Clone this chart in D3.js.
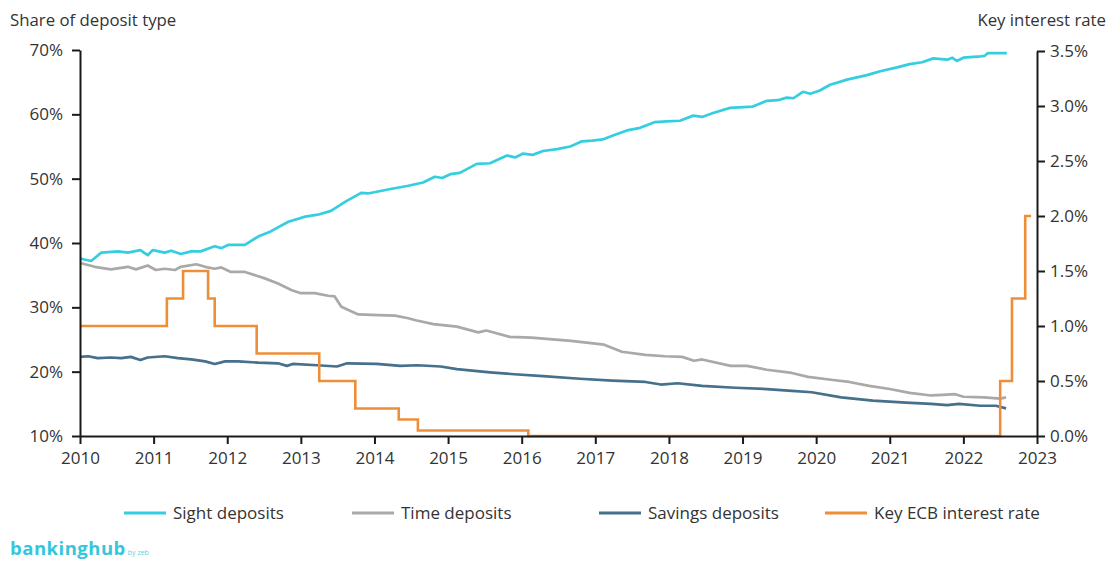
<!DOCTYPE html>
<html>
<head>
<meta charset="utf-8">
<script src="https://cdn.jsdelivr.net/npm/d3@7"></script>
<style>
  html, body { margin: 0; padding: 0; background: #fff; }
  svg { display: block; font-family: "Open Sans", Lato, sans-serif; }
</style>
</head>
<body>
<svg id="chart" width="1108" height="563"></svg>
<script>
// ---- Data (decimal year, value) ----
const xTicks = [2010, 2011, 2012, 2013, 2014, 2015, 2016, 2017, 2018, 2019, 2020, 2021, 2022, 2023];
const leftTicks = [10, 20, 30, 40, 50, 60, 70];
const rightTicks = [0, 0.5, 1.0, 1.5, 2.0, 2.5, 3.0, 3.5];

const sightDeposits = [
  [2010.00,37.6],[2010.15,37.2],[2010.29,38.5],[2010.52,38.7],[2010.65,38.5],[2010.82,38.9],[2010.92,38.1],
  [2010.99,38.9],[2011.15,38.5],[2011.24,38.8],[2011.37,38.3],[2011.51,38.7],[2011.64,38.7],[2011.83,39.5],
  [2011.92,39.2],[2012.01,39.7],[2012.24,39.7],[2012.42,41.0],[2012.59,41.8],[2012.83,43.3],[2013.06,44.1],
  [2013.23,44.4],[2013.41,45.0],[2013.60,46.4],[2013.82,47.8],[2013.91,47.7],[2014.22,48.4],[2014.46,48.9],
  [2014.66,49.4],[2014.82,50.3],[2014.92,50.1],[2015.03,50.7],[2015.16,50.9],[2015.39,52.3],[2015.57,52.4],
  [2015.80,53.6],[2015.91,53.3],[2016.02,53.9],[2016.15,53.7],[2016.29,54.3],[2016.48,54.6],[2016.66,55.0],
  [2016.82,55.8],[2016.96,55.9],[2017.10,56.1],[2017.24,56.7],[2017.43,57.5],[2017.61,57.9],[2017.81,58.8],
  [2017.97,58.9],[2018.15,59.0],[2018.33,59.8],[2018.45,59.6],[2018.60,60.2],[2018.83,61.0],[2019.14,61.2],
  [2019.33,62.1],[2019.48,62.2],[2019.60,62.6],[2019.69,62.5],[2019.82,63.5],[2019.92,63.2],[2020.05,63.7],
  [2020.19,64.6],[2020.42,65.4],[2020.69,66.1],[2020.87,66.7],[2021.10,67.3],[2021.27,67.8],[2021.44,68.1],
  [2021.59,68.7],[2021.78,68.5],[2021.85,68.8],[2021.91,68.3],[2022.00,68.8],[2022.23,69.0],[2022.29,69.1],
  [2022.33,69.5],[2022.59,69.5]
];

const timeDeposits = [
  [2010.00,36.9],[2010.20,36.3],[2010.42,35.9],[2010.65,36.3],[2010.76,35.9],[2010.92,36.5],[2011.03,35.8],
  [2011.15,36.0],[2011.29,35.8],[2011.37,36.3],[2011.58,36.7],[2011.70,36.3],[2011.83,36.0],[2011.92,36.2],
  [2012.05,35.5],[2012.24,35.5],[2012.51,34.5],[2012.69,33.7],[2012.87,32.7],[2013.00,32.2],[2013.19,32.2],
  [2013.37,31.8],[2013.46,31.7],[2013.55,30.1],[2013.78,28.9],[2014.05,28.8],[2014.28,28.7],[2014.46,28.3],
  [2014.56,28.0],[2014.80,27.4],[2015.12,27.0],[2015.41,26.1],[2015.52,26.4],[2015.84,25.4],[2016.13,25.3],
  [2016.67,24.8],[2017.12,24.2],[2017.36,23.1],[2017.68,22.6],[2017.95,22.4],[2018.18,22.3],[2018.34,21.7],
  [2018.45,21.9],[2018.84,20.9],[2019.06,20.9],[2019.33,20.3],[2019.67,19.8],[2019.89,19.2],[2020.23,18.7],
  [2020.45,18.4],[2020.72,17.8],[2021.00,17.3],[2021.27,16.7],[2021.56,16.3],[2021.72,16.4],[2021.89,16.5],
  [2022.00,16.1],[2022.28,16.0],[2022.50,15.8],[2022.58,16.0]
];

const savingsDeposits = [
  [2010.00,22.3],[2010.11,22.4],[2010.24,22.1],[2010.42,22.2],[2010.56,22.1],[2010.69,22.3],[2010.82,21.8],
  [2010.92,22.2],[2011.15,22.4],[2011.33,22.1],[2011.51,21.9],[2011.70,21.6],[2011.83,21.2],[2011.97,21.6],
  [2012.15,21.6],[2012.42,21.4],[2012.69,21.3],[2012.81,20.9],[2012.89,21.2],[2013.22,21.0],[2013.49,20.8],
  [2013.63,21.3],[2014.03,21.2],[2014.35,20.9],[2014.58,21.0],[2014.90,20.8],[2015.12,20.4],[2015.57,19.9],
  [2015.90,19.6],[2016.29,19.3],[2016.79,18.9],[2017.23,18.6],[2017.68,18.4],[2017.89,18.0],[2018.12,18.2],
  [2018.45,17.8],[2018.90,17.5],[2019.33,17.3],[2019.67,17.0],[2019.94,16.8],[2020.34,16.0],[2020.77,15.5],
  [2021.22,15.2],[2021.56,15.0],[2021.78,14.8],[2021.94,15.0],[2022.23,14.7],[2022.44,14.7],[2022.58,14.3]
];

// Key ECB interest rate (step changes: date, new rate)
const ecbRate = [
  [2010.00,1.00],[2011.18,1.25],[2011.40,1.50],[2011.74,1.25],[2011.83,1.00],[2012.40,0.75],[2013.25,0.50],
  [2013.74,0.25],[2014.33,0.15],[2014.59,0.05],[2016.09,0.00],[2022.50,0.50],[2022.66,1.25],[2022.84,2.00],
  [2022.92,2.00]
];

const seriesNames = ["Sight deposits", "Time deposits", "Savings deposits", "Key ECB interest rate"];
const seriesColors = ["#35cee1", "#a9a9a9", "#46708b", "#ef8e39"];

// ---- Layout ----
const svg = d3.select("#chart");
const x = d3.scaleLinear().domain([2010, 2023]).range([80, 1037]);
const yL = d3.scaleLinear().domain([10, 70]).range([436, 50]);
const yR = d3.scaleLinear().domain([0, 3.5]).range([436, 51]);

const axisColor = "#1a1a1a";
const textColor = "#333";
const fontFam = "'Open Sans', Lato, sans-serif";

// Titles
svg.append("text").attr("x", 10).attr("y", 26).attr("font-size", 16.8).attr("fill", textColor)
  .text("Share of deposit type");
svg.append("text").attr("x", 1106).attr("y", 26).attr("font-size", 16.8).attr("fill", textColor)
  .attr("text-anchor", "end").text("Key interest rate");

// Lines
const lineL = d3.line().x(d => x(d[0])).y(d => yL(d[1]));
const lineR = d3.line().x(d => x(d[0])).y(d => yR(d[1])).curve(d3.curveStepAfter);

const g = svg.append("g");
[[sightDeposits, 0], [timeDeposits, 1], [savingsDeposits, 2]].forEach(([data, i]) => {
  g.append("path").datum(data).attr("d", lineL).attr("fill", "none")
    .attr("stroke", seriesColors[i]).attr("stroke-width", 2.7).attr("stroke-linejoin", "round");
});
g.append("path").datum(ecbRate).attr("d", lineR).attr("fill", "none")
  .attr("stroke", seriesColors[3]).attr("stroke-width", 2.6);

// Axes
function styleAxis(sel) {
  sel.select(".domain").attr("stroke", axisColor).attr("stroke-width", 2);
  sel.selectAll(".tick line").attr("stroke", axisColor).attr("stroke-width", 2);
  sel.selectAll(".tick text").attr("fill", textColor).attr("font-size", 17)
    .attr("font-family", fontFam);
}
const axL = svg.append("g").attr("transform", "translate(80,0)")
  .call(d3.axisLeft(yL).tickValues(leftTicks).tickFormat(d => d + "%").tickSize(8).tickSizeOuter(0).tickPadding(9));
styleAxis(axL);
const axR = svg.append("g").attr("transform", "translate(1037,0)")
  .call(d3.axisRight(yR).tickValues(rightTicks).tickFormat(d => d.toFixed(1) + "%").tickSize(8).tickSizeOuter(0).tickPadding(5));
styleAxis(axR);
const axX = svg.append("g").attr("transform", "translate(0,436)")
  .call(d3.axisBottom(x).tickValues(xTicks).tickFormat(d3.format("d")).tickSize(8).tickSizeOuter(0).tickPadding(8));
styleAxis(axX);

// Legend
const legendX = [124, 352, 599, 825];
const legend = svg.append("g");
seriesNames.forEach((name, i) => {
  legend.append("line").attr("x1", legendX[i]).attr("x2", legendX[i] + 42)
    .attr("y1", 513).attr("y2", 513).attr("stroke", seriesColors[i]).attr("stroke-width", 3);
  legend.append("text").attr("x", legendX[i] + 49).attr("y", 519).attr("font-size", 17)
    .attr("fill", textColor).text(name);
});

// Logo
const logo = svg.append("text").attr("x", 10).attr("y", 555).attr("fill", "#35c6dc");
logo.append("tspan").attr("font-size", 18.5).attr("font-weight", 700).attr("letter-spacing", 0.5).text("bankinghub");
logo.append("tspan").attr("font-size", 7).attr("dx", 2).attr("fill", "#5fcfe0").text("by zeb");
</script>
</body>
</html>
